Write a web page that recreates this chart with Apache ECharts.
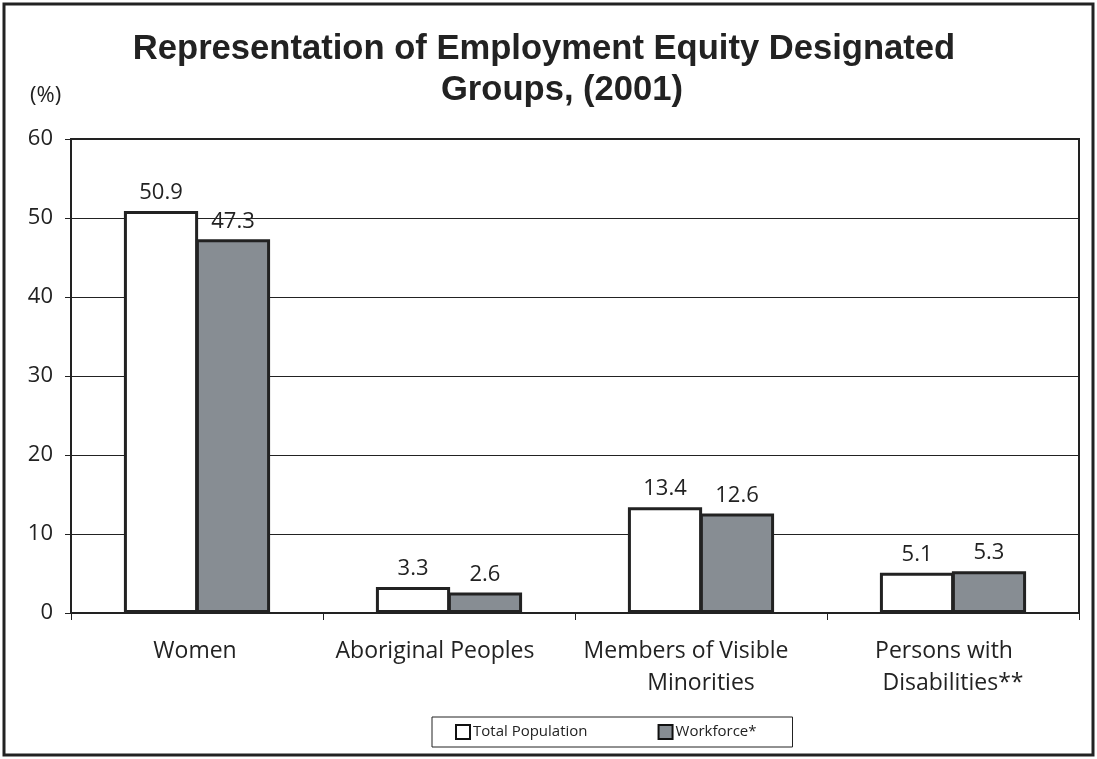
<!DOCTYPE html>
<html><head><meta charset="utf-8">
<script src="https://cdn.jsdelivr.net/npm/echarts@6/dist/echarts.min.js"></script>
<style>html,body{margin:0;padding:0;background:#fff}#c{width:1097px;height:759px}</style>
</head><body><div id="c"></div>
<script>
var categories = ['Women', 'Aboriginal Peoples', 'Members of Visible\nMinorities', 'Persons with\nDisabilities**'];
var totalPopulation = [50.9, 3.3, 13.4, 5.1];
var workforce = [47.3, 2.6, 12.6, 5.3];
var seriesNames = ['Total Population', 'Workforce*'];
var yTicks = [0, 60, 10];

// layout only: right padding per label line (to reproduce the reference's off-centre labels)
var lineShift = [[4], [28], [30, 0], [18, 0]];

var chart = echarts.init(document.getElementById('c'), null, {renderer: 'canvas'});
var labelFont = '"Open Sans", "Noto Sans", sans-serif';
var rich = {};
[0, 4, 18, 28, 30].forEach(function (p) {
  rich['s' + p] = {fontFamily: labelFont, fontSize: 23, color: '#222', lineHeight: 32, padding: [0, p, 0, 0]};
});
var titleStyle = {fontFamily: '"Liberation Sans", Arial, sans-serif', fontWeight: 'bold', fontSize: 34.6, color: '#222'};
chart.setOption({
  backgroundColor: '#fff',
  animation: false,
  title: [{
    text: 'Representation of Employment Equity Designated',
    left: 539, textAlign: 'center', top: 27, textStyle: titleStyle
  }, {
    text: 'Groups, (2001)',
    left: 557, textAlign: 'center', top: 68, textStyle: titleStyle
  }],
  graphic: [
    {type: 'rect', shape: {x: 4, y: 4, width: 1089, height: 751}, style: {fill: 'none', stroke: '#222', lineWidth: 3}, silent: true},
    {type: 'text', left: 30, top: 85, style: {text: '(%)', font: '22px ' + labelFont, fill: '#222'}}
  ],
  legend: {
    data: seriesNames,
    left: 432, top: 717,
    padding: [7, 36, 7, 23],
    itemGap: 70,
    itemWidth: 14, itemHeight: 14,
    itemStyle: {borderColor: '#111', borderWidth: 2},
    icon: 'rect',
    borderColor: '#222', borderWidth: 1,
    textStyle: {fontFamily: labelFont, fontSize: 15, color: '#222', padding: [0, 0, 0, -2]}
  },
  grid: {left: 71, right: 18, top: 139, bottom: 146, show: true, borderColor: '#222', borderWidth: 2, backgroundColor: 'transparent'},
  xAxis: {
    type: 'category', data: categories,
    axisLine: {lineStyle: {color: '#222', width: 2}},
    axisTick: {show: true, length: 7, lineStyle: {color: '#222', width: 1}},
    axisLabel: {
      fontFamily: labelFont, fontSize: 23, color: '#222', margin: 22, lineHeight: 32, interval: 0,
      formatter: function (v, i) {
        return v.split('\n').map(function (line, k) {
          return '{s' + lineShift[i][k] + '|' + line + '}';
        }).join('\n');
      },
      rich: rich
    }
  },
  yAxis: {
    type: 'value', min: yTicks[0], max: yTicks[1], interval: yTicks[2],
    axisLine: {show: true, lineStyle: {color: '#222', width: 2}},
    axisTick: {show: true, length: 6, lineStyle: {color: '#222', width: 1}},
    axisLabel: {fontFamily: labelFont, fontSize: 22, color: '#222', margin: 18},
    splitLine: {show: true, lineStyle: {color: '#222', width: 1}}
  },
  series: [
    {name: seriesNames[0], type: 'bar', data: totalPopulation, barGap: '-3%', barCategoryGap: '42%',
     itemStyle: {color: '#fff', borderColor: '#222', borderWidth: 3},
     label: {show: true, position: 'top', distance: 7, fontFamily: labelFont, fontSize: 22, color: '#222'}},
    {name: seriesNames[1], type: 'bar', data: workforce,
     itemStyle: {color: '#878d93', borderColor: '#222', borderWidth: 3},
     label: {show: true, position: 'top', distance: 7, fontFamily: labelFont, fontSize: 22, color: '#222'}}
  ]
});
</script></body></html>
